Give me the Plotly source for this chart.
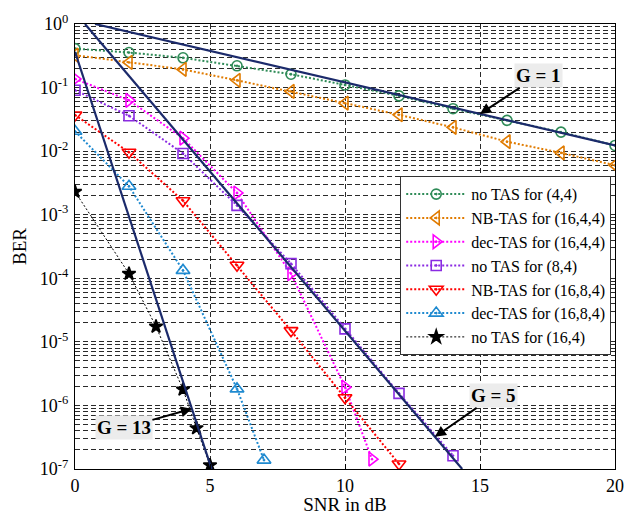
import numpy as np
import plotly.graph_objects as go

# ---------------- data ----------------
snr_even = [0, 2, 4, 6, 8, 10, 12, 14, 16, 18, 20]
ber_notas_44 = [0.41, 0.356, 0.294, 0.22, 0.162, 0.110, 0.074, 0.0465, 0.0305, 0.0199, 0.0123]
ber_nbtas_1644 = [0.324, 0.249, 0.193, 0.130, 0.087, 0.0569, 0.0373, 0.0237, 0.0141, 0.0094, 0.0060]

snr_dec_1644 = [0, 2, 4, 6, 8, 10, 11]
ber_dec_1644 = [0.137, 0.063, 0.016, 0.0022, 1.18e-4, 1.94e-6, 1.43e-7]

snr_notas_84 = [0, 2, 4, 6, 8, 10, 12, 14]
ber_notas_84 = [0.091, 0.036, 0.0092, 0.0014, 1.7e-4, 1.6e-5, 1.55e-6, 1.62e-7]

snr_nbtas_1684 = [0, 2, 4, 6, 8, 10, 12]
ber_nbtas_1684 = [0.037, 0.0096, 0.00166, 1.6e-4, 1.5e-5, 1.32e-6, 1.2e-7]

snr_dec_1684 = [0, 2, 4, 6, 7]
ber_dec_1684 = [0.0205, 0.0028, 1.33e-4, 1.82e-6, 1.38e-7]

snr_notas_164 = [0, 2, 3, 4, 4.5, 5]
ber_notas_164 = [0.0023, 1.18e-4, 1.74e-5, 1.78e-6, 4.4e-7, 1.15e-7]

# diversity-gain reference lines
g1_snr = [0.74, 20]
g1_ber = [1.0, 0.0123]
g5_snr = [0.37, 14.34]
g5_ber = [1.0, 1e-7]
g13_snr = [0, 5.06]
g13_ber = [0.365, 1e-7]

# annotation labels and the SNR where each arrow touches its line
g_labels = ["G = 1", "G = 5", "G = 13"]
g_tip_snr = [15.0, 13.33, 4.33]

x_ticks = [0, 5, 10, 15, 20]
y_decades = list(range(-7, 1))

series_names = ["no TAS for (4,4)", "NB-TAS for (16,4,4)", "dec-TAS for (16,4,4)",
                "no TAS for (8,4)", "NB-TAS for (16,8,4)", "dec-TAS for (16,8,4)",
                "no TAS for (16,4)"]

# ---------------- figure ----------------
FONT = "Liberation Serif"
fig = go.Figure()

styles = [
    (snr_even, ber_notas_44, "#2e8b57", "circle-open-dot", 10, 2),
    (snr_even, ber_nbtas_1644, "#e07b00", "triangle-left-open-dot", 12, 2),
    (snr_dec_1644, ber_dec_1644, "#ff00ff", "triangle-right-open-dot", 12, 2),
    (snr_notas_84, ber_notas_84, "#8a2be2", "square-open-dot", 10, 2),
    (snr_nbtas_1684, ber_nbtas_1684, "#ff0000", "triangle-down-open-dot", 12, 2),
    (snr_dec_1684, ber_dec_1684, "#1f8ad0", "triangle-up-open-dot", 12, 2),
    (snr_notas_164, ber_notas_164, "#000000", "star", 10, 1),
]
for name, (xs, ys, col, sym, sz, lw) in zip(series_names, styles):
    fig.add_trace(go.Scatter(
        x=xs, y=ys, name=name, mode="lines+markers",
        line=dict(color=col, width=lw, dash="2px,2px"),
        marker=dict(symbol=sym, size=sz, color=col,
                    line=dict(color=col, width=1.6)),
    ))

NAVY = "#1b2a6b"
for xs, ys in [(g1_snr, g1_ber), (g5_snr, g5_ber), (g13_snr, g13_ber)]:
    fig.add_trace(go.Scatter(x=xs, y=ys, mode="lines", showlegend=False,
                             line=dict(color=NAVY, width=2.2), hoverinfo="skip"))

# annotations with arrows
offsets = [(58, -38), (59, -41), (-68, 19)]
for lab, tip, (xs, ys), (ax, ay) in zip(g_labels, g_tip_snr,
                                         [(g1_snr, g1_ber), (g5_snr, g5_ber), (g13_snr, g13_ber)],
                                         offsets):
    ly = np.interp(tip, xs, np.log10(ys))
    fig.add_annotation(x=tip, y=ly, ax=ax, ay=ay, text="<b>" + lab + "</b>",
                       showarrow=True, arrowhead=2, arrowsize=1.1, arrowwidth=2,
                       arrowcolor="black", bgcolor="#ececec",
                       font=dict(family=FONT, size=19, color="black"))

# y ticks at decades, minor grid at every subdivision
y_tickvals = [10.0 ** d for d in y_decades]
y_ticktext = ["10<sup>%d</sup>" % d for d in y_decades]
y_minorvals = [m * 10.0 ** d for d in y_decades[:-1] for m in range(2, 10)]

GRID = "#2a2a2a"
DASH = "5px,3px"
fig.update_xaxes(range=[0, 20], tickvals=x_ticks, showgrid=True, gridcolor=GRID,
                 griddash=DASH, gridwidth=1, zeroline=False, automargin=False,
                 showline=True, linecolor="black", linewidth=1.2, mirror=True,
                 ticks="inside", ticklen=5, tickcolor="black",
                 tickfont=dict(family=FONT, size=18, color="black"),
                 title=dict(text="SNR in dB", font=dict(family=FONT, size=19, color="black")))
fig.update_yaxes(type="log", range=[-7, 0], tickvals=y_tickvals, ticktext=y_ticktext,
                 showgrid=True, gridcolor=GRID, griddash=DASH, gridwidth=1,
                 minor=dict(tickmode="array", tickvals=y_minorvals, showgrid=True,
                            gridcolor=GRID, griddash=DASH, gridwidth=1, ticks=""),
                 zeroline=False, showline=True, linecolor="black", linewidth=1.2,
                 mirror=True, ticks="", ticklabelstandoff=2, automargin=True,
                 tickfont=dict(family=FONT, size=18, color="black"),
                 title=dict(text="BER", font=dict(family=FONT, size=19, color="black"),
                            standoff=8))

fig.update_layout(
    width=635, height=515,
    margin=dict(l=75, r=20, t=22, b=46),
    paper_bgcolor="white", plot_bgcolor="white",
    font=dict(family=FONT, color="black"),
    legend=dict(x=0.993, y=0.658, xanchor="right", yanchor="top",
                bgcolor="white", bordercolor="#333333", borderwidth=1,
                font=dict(family=FONT, size=16, color="black"),
                itemwidth=60, tracegroupgap=0),
    showlegend=True,
)

fig.write_html("out.html")
